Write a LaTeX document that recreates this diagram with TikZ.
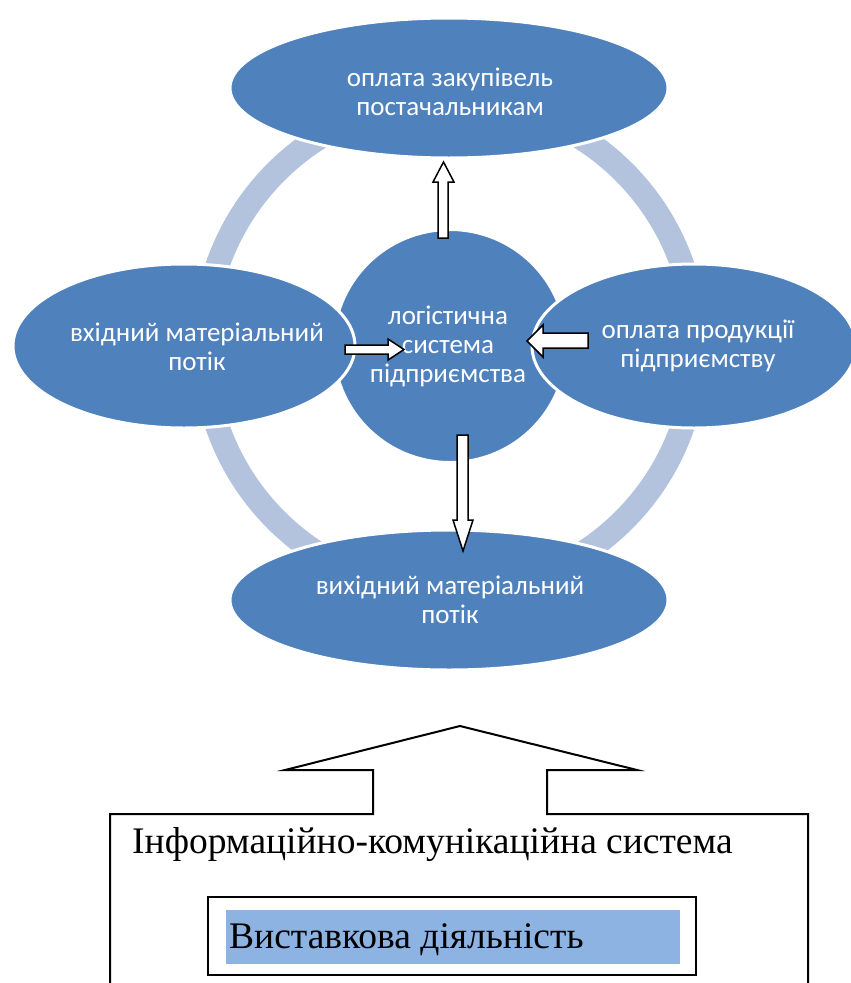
\documentclass[tikz,border=0pt]{standalone}
\usepackage{fontspec}
\setmainfont{Liberation Serif}
\newfontfamily\calib{Carlito}
\usetikzlibrary{shapes.geometric}
\definecolor{accblue}{HTML}{4F81BD}
\definecolor{ringblue}{HTML}{B3C3DE}
\definecolor{boxblue}{HTML}{8DB3E2}
\tikzset{
  sat/.style={ellipse, fill=accblue, draw=white, line width=3pt, inner sep=0pt},
  sattext/.style={text=white, font=\calib\fontsize{27}{29}\selectfont, align=center, inner sep=0pt},
  blockarrow/.style={draw=black, fill=white, line width=1.5pt, line join=miter},
  serift/.style={font=\fontsize{37.5}{40}\selectfont, inner sep=0pt, anchor=base west}
}
\begin{document}
\begin{tikzpicture}[x=1pt,y=-1pt]
\useasboundingbox (0,0) rectangle (851,983);
% ring
\draw[ringblue, line width=24pt] (450,346) circle[radius=246];
% centre circle
\node[circle, fill=accblue, draw=white, line width=3pt, minimum size=233pt, inner sep=0pt] (core) at (450,346) {};
% satellites
\node[sat, minimum width=438pt, minimum height=140pt] (top) at (449,88) {};
\node[sat, minimum width=438pt, minimum height=140pt] (bot) at (449,600) {};
\node[sat, minimum width=342pt, minimum height=164pt] (lft) at (184,346) {};
\node[sat, minimum width=324pt, minimum height=164pt] (rgt) at (694,346) {};
% texts
\node[sattext] (ttop) at (450,92) {оплата закупівель\\постачальникам};
\node[sattext] (tlft) at (197,347) {вхідний матеріальний\\потік};
\node[sattext] (trgt) at (698,346) {оплата продукції\\підприємству};
\node[sattext] (tbot) at (450,600) {вихідний матеріальний\\потік};
\node[sattext] (tcore) at (448,346) {логістична\\система\\підприємства};
% block arrows
\draw[blockarrow] (438,238) -- (438,182) -- (433,182) -- (443.5,162) -- (454,182) -- (448,182) -- (448,238) -- cycle;
\draw[blockarrow] (345,345) -- (388,345) -- (388,339) -- (404,349.5) -- (388,360) -- (388,354) -- (345,354) -- cycle;
\draw[blockarrow] (588,333) -- (543,333) -- (543,325) -- (527,341) -- (543,357) -- (543,348) -- (588,348) -- cycle;
\draw[blockarrow] (457,435) -- (468,435) -- (468,520) -- (473,520) -- (463,551) -- (453,520) -- (457,520) -- cycle;
% big outline arrow + frame
\coordinate (fbl) at (110,983);
\coordinate (fbr) at (808,983);
\draw[line width=2pt, line join=miter] (fbl) -- (110,814) -- (373,814) -- (373,770) -- (285,770) -- (460,726) -- (637,770) -- (547,770) -- (547,814) -- (808,814) -- (fbr);
\node[serift] (ics) at (132,853) {Інформаційно-комунікаційна система};
% inner box
\draw[line width=2pt, fill=white] (208,897) rectangle (696,975);
\fill[boxblue] (226,910) rectangle (680,964);
\node[serift] (vd) at (229,948) {Виставкова діяльність};
\end{tikzpicture}
\end{document}
